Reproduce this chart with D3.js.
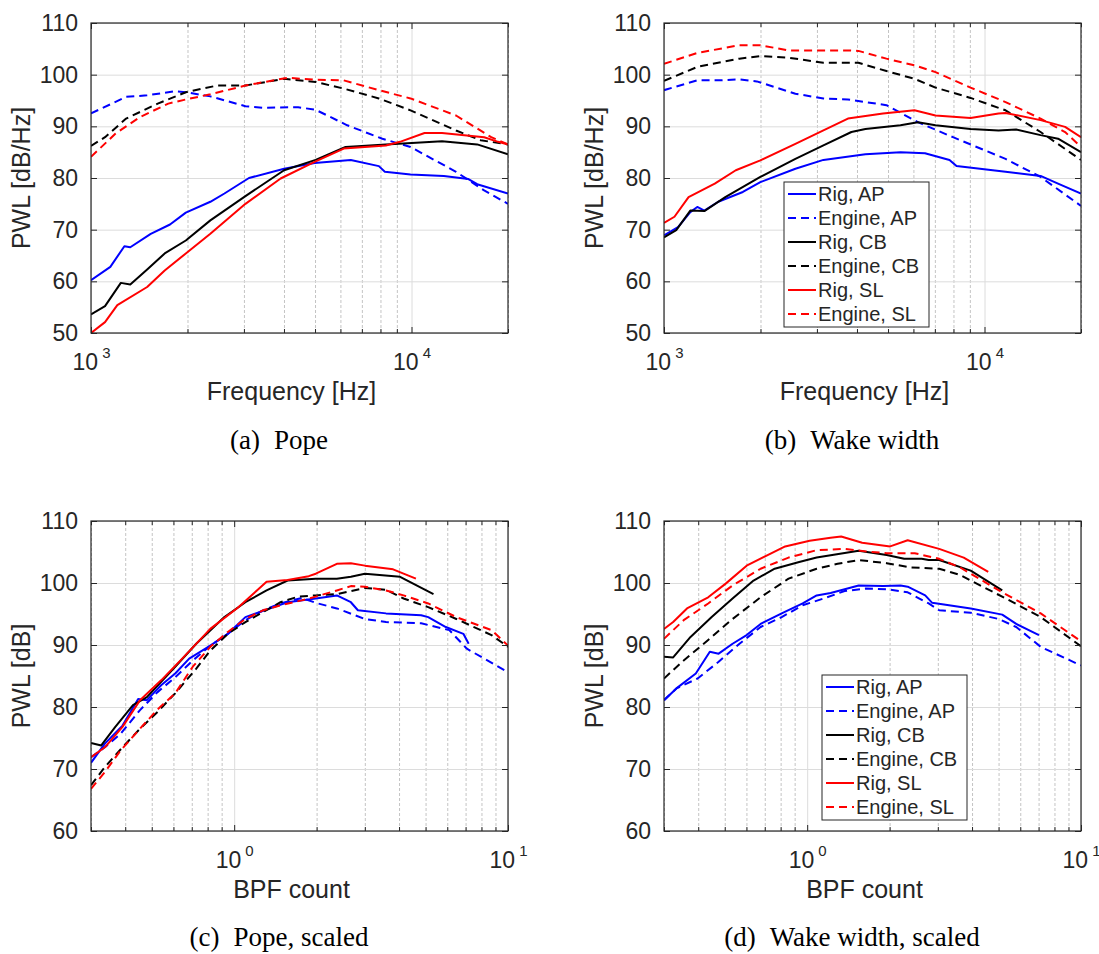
<!DOCTYPE html>
<html>
<head>
<meta charset="utf-8">
<title>PWL rig vs engine</title>
<script src="https://cdn.jsdelivr.net/npm/d3@7"></script>
<style>
  body { margin: 0; background: #fff; }
  text { font-family: "Liberation Sans", Arial, sans-serif; fill: #262626; }
  text.caption { font-family: "Liberation Serif", "Times New Roman", serif; fill: #000; }
</style>
</head>
<body>
<svg id="fig" width="1099" height="954"></svg>
<script>
// ---- data: [x, PWL] ----
// (a) Pope, frequency in Hz
var popeRigAP = [[1000,60.2],[1149,62.8],[1271,66.8],[1326,66.6],[1536,69.2],[1764,71.0],[1976,73.3],[2357,75.4],[2608,77.0],[3111,80.0],[4004,81.8],[4985,82.9],[6465,83.5],[7909,82.3],[8255,81.2],[9930,80.7],[12610,80.4],[15050,79.8],[16030,78.8],[20000,77.0]];
var popeEngAP = [[1000,92.5],[1287,95.7],[1497,96.0],[1832,96.8],[1976,96.6],[2357,95.8],[3033,93.9],[3441,93.6],[4429,93.7],[5023,93.2],[6303,90.2],[8111,87.6],[9930,86.0],[13770,81.2],[16850,77.6],[20000,75.0]];
var popeRigCB = [[1000,53.6],[1106,55.2],[1239,59.7],[1326,59.4],[1497,62.3],[1698,65.4],[1976,67.9],[2357,71.8],[3033,76.5],[4004,81.5],[5023,83.5],[6225,86.0],[8318,86.5],[12450,87.1],[16030,86.5],[20000,84.6]];
var popeEngCB = [[1000,86.2],[1106,87.9],[1287,91.5],[1615,94.4],[1976,96.6],[2479,97.9],[3033,97.9],[4004,99.2],[5023,98.6],[6145,97.3],[7909,95.4],[9930,93.1],[13770,89.2],[16440,87.3],[20000,86.5]];
var popeRigSL = [[1000,50.0],[1106,52.1],[1208,55.4],[1497,58.9],[1698,62.1],[1976,65.4],[2357,69.2],[3033,75.0],[3905,79.9],[5023,83.2],[6145,85.7],[8318,86.3],[9203,87.0],[10980,88.7],[12450,88.7],[16850,87.9],[18640,87.0],[20000,86.5]];
var popeEngSL = [[1000,84.1],[1193,88.6],[1423,91.8],[1742,94.4],[1976,95.2],[2357,96.2],[3033,97.9],[4106,99.4],[5023,99.0],[6145,98.9],[7909,97.0],[9930,95.4],[13770,92.1],[17730,87.9],[20000,86.5]];

// (b) Wake width, frequency in Hz
var wakeRigAP = [[1000,68.9],[1106,70.5],[1208,73.4],[1270,74.4],[1336,73.7],[1477,75.4],[1762,77.3],[1998,79.2],[2570,81.8],[3143,83.5],[4250,84.6],[5467,85.0],[6521,84.8],[7776,83.5],[8178,82.3],[11630,81.2],[14960,80.4],[16960,78.9],[20000,77.0]];
var wakeEngAP = [[1000,97.0],[1270,98.9],[1477,98.9],[1718,99.1],[1948,98.7],[2570,96.3],[3143,95.4],[3748,95.2],[4943,94.1],[6198,90.8],[7973,87.9],[11630,83.7],[14960,80.2],[20000,74.6]];
var wakeRigCB = [[1000,68.5],[1092,69.9],[1208,73.7],[1336,73.6],[1553,76.3],[1998,80.2],[2570,83.7],[3143,86.3],[3843,88.9],[4250,89.5],[5467,90.2],[6198,90.8],[7031,90.2],[9044,89.5],[11060,89.2],[12540,89.4],[14960,88.3],[16960,87.6],[20000,85.0]];
var wakeEngCB = [[1000,98.8],[1270,101.5],[1718,103.1],[1998,103.6],[2443,103.3],[3143,102.3],[4042,102.3],[4943,100.7],[6045,99.2],[7031,97.5],[9044,95.5],[11630,93.1],[14960,88.9],[20000,83.5]];
var wakeRigSL = [[1000,71.3],[1078,72.5],[1193,76.3],[1440,78.9],[1675,81.5],[1998,83.4],[2570,86.6],[3143,89.2],[3748,91.5],[4822,92.5],[6045,93.1],[7031,92.1],[9044,91.6],[11060,92.5],[11630,92.6],[14960,91.2],[17840,89.9],[20000,87.9]];
var wakeEngSL = [[1000,102.1],[1270,104.2],[1718,105.7],[1998,105.7],[2443,104.7],[3748,104.7],[4042,104.6],[4943,103.1],[6045,101.8],[7031,100.5],[9044,97.5],[11630,94.7],[14960,91.5],[17840,88.9],[20000,86.0]];

// (c) Pope, scaled, BPF count
var popeScRigAP = [[0.3,71.0],[0.337,74.1],[0.391,77.0],[0.446,81.3],[0.480,81.1],[0.541,83.5],[0.609,85.4],[0.685,87.8],[0.818,89.9],[0.948,91.8],[1.099,94.5],[1.352,95.9],[1.567,96.9],[1.986,97.5],[2.371,98.0],[2.668,96.9],[2.83,95.6],[3.585,95.1],[4.819,94.8],[5.112,94.5],[5.928,92.9],[6.871,91.8],[7.183,90.2]];
var popeScEngAP = [[0.3,71.9],[0.337,73.5],[0.385,75.7],[0.453,79.5],[0.525,82.4],[0.609,84.8],[0.706,87.5],[0.818,89.9],[0.948,91.8],[1.099,94.0],[1.274,95.6],[1.477,96.7],[1.764,97.6],[1.986,96.8],[2.371,95.9],[3.002,94.2],[3.585,93.7],[4.819,93.5],[6.105,92.4],[7.075,89.4],[10,85.6]];
var popeScRigCB = [[0.3,74.2],[0.327,73.8],[0.368,76.8],[0.427,80.3],[0.480,81.6],[0.609,86.5],[0.727,90.2],[0.921,94.5],[1.099,96.9],[1.313,98.8],[1.567,100.4],[1.986,100.7],[2.371,100.7],[2.668,101.0],[3.002,101.5],[4.036,101.0],[5.344,98.2]];
var popeScEngCB = [[0.3,67.4],[0.337,70.3],[0.391,73.5],[0.453,76.5],[0.525,79.2],[0.609,82.2],[0.727,86.2],[0.818,89.1],[0.948,91.8],[1.099,93.7],[1.274,95.3],[1.477,96.9],[1.713,97.8],[1.986,98.0],[2.371,98.2],[2.668,98.7],[3.002,99.2],[3.585,98.9],[4.156,97.5],[5.112,96.1],[6.477,94.2],[8.706,91.6],[10,89.7]];
var popeScRigSL = [[0.3,71.9],[0.337,73.5],[0.391,76.8],[0.453,81.1],[0.541,84.3],[0.646,87.8],[0.818,92.6],[1.036,96.1],[1.313,100.2],[1.567,100.5],[1.872,101.1],[1.986,101.5],[2.371,103.1],[2.668,103.2],[3.002,102.8],[3.804,102.2],[4.61,100.7]];
var popeScEngSL = [[0.3,66.8],[0.337,69.5],[0.385,73.0],[0.453,76.5],[0.525,79.6],[0.609,82.2],[0.706,86.5],[0.818,89.7],[0.948,92.1],[1.099,94.2],[1.274,95.6],[1.477,96.4],[1.764,97.2],[1.986,97.8],[2.371,98.8],[2.668,99.5],[3.002,99.4],[3.585,98.8],[4.156,98.0],[5.112,96.7],[6.477,94.5],[8.706,92.4],[10,89.9]];

// (d) Wake width, scaled, BPF count
var wakeScRigAP = [[0.3,81.1],[0.333,83.0],[0.392,85.4],[0.441,88.9],[0.475,88.6],[0.534,90.2],[0.601,91.6],[0.676,93.4],[0.807,95.1],[0.963,96.7],[1.083,98.0],[1.218,98.4],[1.542,99.6],[1.895,99.5],[2.194,99.6],[2.328,99.4],[2.698,98.0],[2.861,96.8],[3.956,95.9],[5.156,94.9],[5.801,93.4],[7.023,91.6]];
var wakeScEngAP = [[0.3,81.1],[0.333,83.0],[0.398,84.6],[0.475,87.3],[0.566,90.2],[0.676,92.9],[0.807,94.5],[0.963,96.4],[1.148,97.5],[1.370,98.7],[1.635,99.1],[1.951,99.0],[2.328,98.5],[2.778,96.7],[3.035,95.6],[3.956,95.2],[5.007,94.2],[5.801,92.9],[7.128,89.7],[10,86.7]];
var wakeScRigCB = [[0.3,88.1],[0.324,88.0],[0.375,91.3],[0.448,94.5],[0.534,97.5],[0.637,100.4],[0.761,102.3],[0.935,103.4],[1.083,104.1],[1.542,105.2],[1.951,104.5],[2.261,103.9],[2.619,103.9],[2.778,103.7],[3.035,103.7],[3.956,102.0],[5.156,98.8]];
var wakeScEngCB = [[0.3,84.6],[0.354,87.5],[0.435,90.8],[0.534,94.2],[0.676,97.7],[0.855,100.7],[1.083,102.3],[1.292,103.1],[1.542,103.7],[1.951,103.2],[2.398,102.5],[3.035,102.3],[3.622,101.3],[3.956,100.4],[5.31,97.5],[7.128,94.5],[10,89.8]];
var wakeScRigSL = [[0.3,92.6],[0.324,93.7],[0.364,95.9],[0.435,97.7],[0.504,99.9],[0.601,102.8],[0.717,104.5],[0.831,105.9],[1.021,106.8],[1.218,107.3],[1.331,107.5],[1.588,106.5],[2.01,105.9],[2.328,106.9],[3.035,105.5],[3.73,104.1],[4.584,101.8]];
var wakeScEngSL = [[0.3,91.0],[0.354,94.0],[0.435,96.7],[0.534,99.6],[0.676,102.3],[0.855,104.1],[1.083,105.3],[1.370,105.5],[1.635,105.1],[1.951,104.8],[2.469,104.8],[3.035,103.9],[3.622,102.5],[3.956,101.5],[5.156,98.5],[7.128,95.1],[10,90.6]];

var seriesNames = ["Rig, AP", "Engine, AP", "Rig, CB", "Engine, CB", "Rig, SL", "Engine, SL"];
var freqDomain = [1000, 20000];
var bpfDomain = [0.3, 10];
var freqYTicks = [50, 60, 70, 80, 90, 100, 110];
var bpfYTicks = [60, 70, 80, 90, 100, 110];
var captions = ["(a)", "Pope", "(b)", "Wake width", "(c)", "Pope, scaled", "(d)", "Wake width, scaled"];

// ---- styles ----
var seriesColors = ["#0000ff", "#0000ff", "#000000", "#000000", "#ff0000", "#ff0000"];
var seriesDash = [null, "8,5", null, "8,5", null, "8,5"];
var W = 417, H = 310;

var svg = d3.select("#fig");
svg.append("rect").attr("width", 1099).attr("height", 954).attr("fill", "#fff");

var panels = [
  {left: 91,  top: 23,  xd: freqDomain, yt: freqYTicks, xl: "Frequency [Hz]", yl: "PWL [dB/Hz]", cap: 0, capX: 279, capY: 449,
   data: [popeRigAP, popeEngAP, popeRigCB, popeEngCB, popeRigSL, popeEngSL], legend: null},
  {left: 664, top: 23,  xd: freqDomain, yt: freqYTicks, xl: "Frequency [Hz]", yl: "PWL [dB/Hz]", cap: 2, capX: 852, capY: 449,
   data: [wakeRigAP, wakeEngAP, wakeRigCB, wakeEngCB, wakeRigSL, wakeEngSL], legend: [120, 159]},
  {left: 91,  top: 521, xd: bpfDomain, yt: bpfYTicks, xl: "BPF count", yl: "PWL [dB]", cap: 4, capX: 279, capY: 946,
   data: [popeScRigAP, popeScEngAP, popeScRigCB, popeScEngCB, popeScRigSL, popeScEngSL], legend: null},
  {left: 664, top: 521, xd: bpfDomain, yt: bpfYTicks, xl: "BPF count", yl: "PWL [dB]", cap: 6, capX: 852, capY: 946,
   data: [wakeScRigAP, wakeScEngAP, wakeScRigCB, wakeScEngCB, wakeScRigSL, wakeScEngSL], legend: [158, 154]}
];

function isMajor(v) {
  var l = Math.log10(v);
  return Math.abs(l - Math.round(l)) < 1e-9;
}

panels.forEach(function(p, i) {
  var g = svg.append("g").attr("transform", "translate(" + p.left + "," + p.top + ")");
  var x = d3.scaleLog().domain(p.xd).range([0, W]);
  var y = d3.scaleLinear().domain([p.yt[0], p.yt[p.yt.length - 1]]).range([H, 0]);

  var allX = x.ticks();
  var majorX = allX.filter(isMajor);
  var minorX = allX.filter(function(v) { return !isMajor(v); });

  // grid
  var gx = g.append("g").attr("transform", "translate(0," + H + ")")
    .call(d3.axisBottom(x).tickValues(minorX).tickSize(-H).tickFormat(""));
  gx.selectAll("line").attr("stroke", "#c4c4c4").attr("stroke-dasharray", "3,2");
  var gxm = g.append("g").attr("transform", "translate(0," + H + ")")
    .call(d3.axisBottom(x).tickValues(majorX).tickSize(-H).tickFormat(""));
  gxm.selectAll("line").attr("stroke", "#dcdcdc");
  var gy = g.append("g").call(d3.axisLeft(y).tickValues(p.yt).tickSize(-W).tickFormat(""));
  gy.selectAll("line").attr("stroke", "#dcdcdc");
  g.selectAll(".domain").remove();

  // series
  var clipId = "clip" + i;
  g.append("clipPath").attr("id", clipId).append("rect").attr("width", W).attr("height", H);
  var line = d3.line().x(function(d) { return x(d[0]); }).y(function(d) { return y(d[1]); });
  var lines = g.append("g").attr("clip-path", "url(#" + clipId + ")");
  p.data.forEach(function(s, k) {
    lines.append("path").datum(s).attr("d", line)
      .attr("fill", "none").attr("stroke", seriesColors[k]).attr("stroke-width", 2)
      .attr("stroke-dasharray", seriesDash[k]).attr("stroke-linejoin", "round");
  });

  // axes: inward ticks on all four sides
  var ax = g.append("g").attr("class", "axes");
  ax.append("g").attr("transform", "translate(0," + H + ")")
    .call(d3.axisBottom(x).tickValues(minorX).tickSize(-4).tickFormat(""));
  ax.append("g")
    .call(d3.axisTop(x).tickValues(minorX).tickSize(-4).tickFormat(""));
  ax.append("g")
    .call(d3.axisTop(x).tickValues(majorX).tickSize(-6).tickFormat(""));
  var xb = ax.append("g").attr("transform", "translate(0," + H + ")")
    .call(d3.axisBottom(x).tickValues(majorX).tickSize(-6).tickFormat(""));
  var yl = ax.append("g")
    .call(d3.axisLeft(y).tickValues(p.yt).tickSize(-6).tickPadding(13).tickFormat(d3.format("d")));
  ax.append("g").attr("transform", "translate(" + W + ",0)")
    .call(d3.axisRight(y).tickValues(p.yt).tickSize(-6).tickFormat(""));
  ax.selectAll(".domain").remove();
  ax.selectAll("line").attr("stroke", "#262626").attr("stroke-width", 1);
  yl.selectAll("text").attr("font-size", 23).attr("fill", "#262626")
    .attr("font-family", "Liberation Sans, Arial, sans-serif");

  // 10^n labels
  xb.selectAll(".tick").append("text")
    .attr("y", 37).attr("text-anchor", "middle").attr("fill", "#262626")
    .attr("font-family", "Liberation Sans, Arial, sans-serif")
    .each(function(v) {
      var t = d3.select(this);
      t.append("tspan").attr("font-size", 23).text("10");
      t.append("tspan").attr("font-size", 15).attr("dx", 4).attr("dy", -12)
        .text(Math.round(Math.log10(v)));
    });

  g.append("rect").attr("width", W).attr("height", H)
    .attr("fill", "none").attr("stroke", "#262626").attr("stroke-width", 1.2);

  // axis titles
  g.append("text").attr("x", W / 2 - 8).attr("y", H + 67).attr("text-anchor", "middle")
    .attr("font-size", 25).text(p.xl);
  g.append("text").attr("transform", "translate(-61," + (H / 2) + ") rotate(-90)")
    .attr("text-anchor", "middle").attr("font-size", 25).text(p.yl);

  // legend
  if (p.legend) {
    var lg = g.append("g").attr("transform", "translate(" + p.legend[0] + "," + p.legend[1] + ")");
    lg.append("rect").attr("width", 145).attr("height", 145)
      .attr("fill", "#fff").attr("stroke", "#262626").attr("stroke-width", 1);
    seriesNames.forEach(function(name, k) {
      var yy = 12 + k * 24;
      lg.append("line").attr("x1", 4).attr("x2", 32).attr("y1", yy).attr("y2", yy)
        .attr("stroke", seriesColors[k]).attr("stroke-width", 2).attr("stroke-dasharray", seriesDash[k]);
      lg.append("text").attr("x", 34).attr("y", yy).attr("dy", "0.35em")
        .attr("font-size", 20).text(name);
    });
  }

  // caption
  var cap = svg.append("text").attr("class", "caption").attr("x", p.capX).attr("y", p.capY)
    .attr("text-anchor", "middle").attr("font-size", 27);
  cap.append("tspan").text(captions[p.cap]);
  cap.append("tspan").attr("dx", 14).text(captions[p.cap + 1]);
});
</script>
</body>
</html>
